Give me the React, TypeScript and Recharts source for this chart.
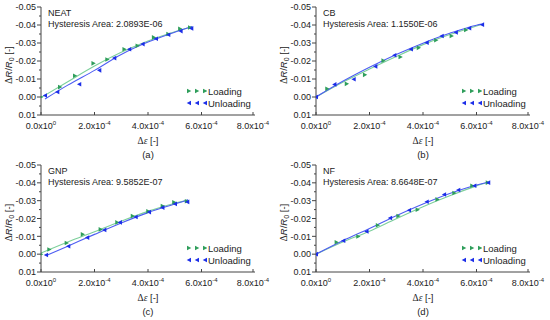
import React from 'react';
import { ComposedChart, Scatter, Line, XAxis, YAxis, Legend, Label } from 'recharts';

// [strain, dR/R0] pairs
const neatLoading = [[0, 0], [0.71e-4, -0.0055], [1.27e-4, -0.0118], [1.96e-4, -0.0187], [2.48e-4, -0.0208], [3.12e-4, -0.0265], [3.61e-4, -0.0285], [4.22e-4, -0.0331], [4.76e-4, -0.035], [5.2e-4, -0.0379], [5.57e-4, -0.0386]];
const neatUnloading = [[0.15e-4, -0.0008], [0.61e-4, -0.0028], [1.43e-4, -0.0071], [2.18e-4, -0.0148], [2.74e-4, -0.0216], [3.3e-4, -0.0265], [3.8e-4, -0.0294], [4.3e-4, -0.0324], [4.76e-4, -0.0346], [5.22e-4, -0.0366], [5.62e-4, -0.0381]];
const neatFitL = [[0, 0.0003], [1e-4, -0.0085], [2e-4, -0.0172], [3e-4, -0.0248], [4e-4, -0.0311], [5e-4, -0.0362], [5.65e-4, -0.039]];
const neatFitU = [[0.15e-4, 0.0011], [1e-4, -0.0066], [2e-4, -0.0148], [3e-4, -0.0236], [4e-4, -0.0305], [5e-4, -0.036], [5.65e-4, -0.0392]];

const cbLoading = [[0, 0], [0.42e-4, -0.0046], [1.15e-4, -0.0073], [1.83e-4, -0.0123], [2.52e-4, -0.0202], [3.16e-4, -0.0222], [3.84e-4, -0.0273], [4.49e-4, -0.0315], [5.07e-4, -0.0339], [5.61e-4, -0.0372]];
const cbUnloading = [[0, 0], [0.69e-4, -0.007], [1.41e-4, -0.0099], [2.22e-4, -0.017], [2.93e-4, -0.0232], [3.55e-4, -0.0265], [4.14e-4, -0.0302], [4.7e-4, -0.0339], [5.23e-4, -0.0358], [5.73e-4, -0.0382], [6.21e-4, -0.0402]];
const cbFitL = [[0, 0], [1e-4, -0.0082], [2e-4, -0.0155], [3e-4, -0.0225], [4e-4, -0.0291], [5e-4, -0.0347], [6e-4, -0.0394], [6.2e-4, -0.0403]];
const cbFitU = [[0, 0], [1e-4, -0.0087], [2e-4, -0.0165], [3e-4, -0.0236], [4e-4, -0.0299], [5e-4, -0.0354], [6e-4, -0.0399], [6.2e-4, -0.0405]];

const gnpLoading = [[0, 0], [0.31e-4, -0.0026], [0.96e-4, -0.0063], [1.56e-4, -0.0111], [2.23e-4, -0.0139], [2.85e-4, -0.0178], [3.43e-4, -0.0214], [4.01e-4, -0.024], [4.55e-4, -0.027], [4.98e-4, -0.0291], [5.45e-4, -0.0297]];
const gnpUnloading = [[0.19e-4, 0.0005], [1.02e-4, -0.0044], [1.73e-4, -0.0093], [2.37e-4, -0.0136], [2.95e-4, -0.0178], [3.54e-4, -0.0208], [4.04e-4, -0.0236], [4.54e-4, -0.0261], [5.01e-4, -0.0282], [5.47e-4, -0.0293]];
const gnpFitL = [[0, -0.0006], [1e-4, -0.0068], [2e-4, -0.0126], [3e-4, -0.0185], [4e-4, -0.024], [5e-4, -0.0285], [5.5e-4, -0.0303]];
const gnpFitU = [[0.19e-4, 0.0008], [1e-4, -0.0045], [2e-4, -0.0111], [3e-4, -0.0175], [4e-4, -0.0233], [5e-4, -0.0281], [5.5e-4, -0.0305]];

const nfLoading = [[0, 0], [0.77e-4, -0.0067], [1.58e-4, -0.0099], [2.31e-4, -0.0162], [3.08e-4, -0.0214], [3.8e-4, -0.0249], [4.54e-4, -0.0307], [5.17e-4, -0.0343], [5.84e-4, -0.0384], [6.42e-4, -0.0401]];
const nfUnloading = [[0, 0], [1.02e-4, -0.0075], [1.89e-4, -0.0127], [2.77e-4, -0.0203], [3.48e-4, -0.0246], [4.14e-4, -0.0294], [4.79e-4, -0.0335], [5.32e-4, -0.036], [5.92e-4, -0.0384], [6.44e-4, -0.0401]];
const nfFitL = [[0, 0], [1e-4, -0.0068], [2e-4, -0.0129], [3e-4, -0.0199], [4e-4, -0.0266], [5e-4, -0.0327], [6e-4, -0.0383], [6.45e-4, -0.0403]];
const nfFitU = [[0, 0], [1e-4, -0.0075], [2e-4, -0.0144], [3e-4, -0.0215], [4e-4, -0.0281], [5e-4, -0.034], [6e-4, -0.0388], [6.45e-4, -0.0405]];

const xTicks = [0, 2e-4, 4e-4, 6e-4, 8e-4];
const yTicks = [-0.05, -0.045, -0.04, -0.035, -0.03, -0.025, -0.02, -0.015, -0.01, -0.005, 0, 0.005, 0.01];

const GREEN = '#2f9e5b';
const GREEN_LINE = '#7ccf9b';
const BLUE = '#1c2ee8';
const BLUE_LINE = '#4d5df2';
const AXIS = '#444';
const FONT = '"Liberation Sans", Arial, sans-serif';

const toPts = (arr: number[][]) => arr.map(([x, y]) => ({ x, y }));

const RightTri = (props: any) => {
  const { cx, cy } = props;
  return <polygon points={`${cx - 2},${cy - 2.3} ${cx + 2.3},${cy} ${cx - 2},${cy + 2.3}`} fill={GREEN} />;
};
const LeftTri = (props: any) => {
  const { cx, cy } = props;
  return <polygon points={`${cx + 2},${cy - 2.3} ${cx - 2.3},${cy} ${cx + 2},${cy + 2.3}`} fill={BLUE} />;
};

const YTick = (props: any) => {
  const { x, y, payload } = props;
  const v = payload.value;
  const major = Math.abs(Math.round(v * 1000)) % 10 === 0;
  return (
    <g>
      <line x1={x - (major ? 4 : 2)} x2={x} y1={y} y2={y} stroke={AXIS} />
      {major && (
        <text x={x - 5} y={y} dy={3.2} textAnchor="end" fontSize={9} fill="#222" fontFamily={FONT}>
          {v.toFixed(2)}
        </text>
      )}
    </g>
  );
};

const XTick = (props: any) => {
  const { x, y, payload } = props;
  const v = payload.value;
  const mant = v === 0 ? '0.0' : (v / 1e-4).toFixed(1);
  const exp = v === 0 ? '0' : '-4';
  return (
    <g>
      <line x1={x} x2={x} y1={y} y2={y - 3} stroke={AXIS} />
      <text x={x} y={y + 14} textAnchor="middle" fontSize={9} fill="#222" fontFamily={FONT}>
        {mant}x10<tspan dy={-4} fontSize={6}>{exp}</tspan>
      </text>
    </g>
  );
};

const LegendBox = () => {
  const row = (shape: 'r' | 'l', text: string) => (
    <div style={{ display: 'flex', alignItems: 'center', height: 12 }}>
      <svg width={21} height={8} style={{ marginRight: 1 }}>
        {[3, 11, 19].map((cx) =>
          shape === 'r' ? <RightTri key={cx} cx={cx} cy={4} /> : <LeftTri key={cx} cx={cx} cy={4} />
        )}
      </svg>
      <span>{text}</span>
    </div>
  );
  return (
    <div style={{ fontSize: 9.5, fontFamily: FONT, color: '#222' }}>
      {row('r', 'Loading')}
      {row('l', 'Unloading')}
    </div>
  );
};

interface PanelProps {
  name: string;
  area: string;
  caption: string;
  loading: number[][];
  unloading: number[][];
  fitL: number[][];
  fitU: number[][];
  top: number;
  bottom: number;
}

const W = 275;
const H = 160;

const Panel: React.FC<PanelProps> = ({ name, area, caption, loading, unloading, fitL, fitU, top, bottom }) => {
  const plotBottom = H - bottom - 24;
  const midY = (top + plotBottom) / 2 + 4;
  return (
    <div style={{ position: 'relative', width: W, height: H }}>
      <ComposedChart width={W} height={H} margin={{ top, right: 20, left: 0, bottom }}>
        <XAxis
          type="number"
          dataKey="x"
          domain={[0, 8e-4]}
          ticks={xTicks}
          tick={<XTick />}
          tickLine={false}
          tickSize={0}
          tickMargin={0}
          height={24}
          stroke={AXIS}
          allowDataOverflow
        />
        <YAxis
          type="number"
          dataKey="y"
          domain={[-0.05, 0.01]}
          reversed
          ticks={yTicks}
          tick={<YTick />}
          tickLine={false}
          tickSize={0}
          tickMargin={0}
          width={41}
          stroke={AXIS}
          interval={0}
          allowDataOverflow
        >
          <Label
            content={() => (
              <text
                x={0}
                y={0}
                transform={`translate(12, ${midY}) rotate(-90)`}
                textAnchor="middle"
                fontSize={9.5}
                fill="#222"
                fontFamily={FONT}
              >
                <tspan fontFamily='"Liberation Serif", serif'>Δ</tspan>
                <tspan fontStyle="italic">R</tspan>/<tspan fontStyle="italic">R</tspan>
                <tspan fontSize={7} dy={2}>0</tspan>
                <tspan dy={-2}> [-]</tspan>
              </text>
            )}
          />
        </YAxis>
        <Legend
          verticalAlign="middle"
          align="center"
          layout="horizontal"
          content={<LegendBox />}
          wrapperStyle={{ left: 186, top: plotBottom - 30, width: 80, height: 26 }}
        />
        <Line data={toPts(fitL)} dataKey="y" type="monotone" stroke={GREEN_LINE} strokeWidth={1.1} dot={false} isAnimationActive={false} legendType="none" />
        <Line data={toPts(fitU)} dataKey="y" type="monotone" stroke={BLUE_LINE} strokeWidth={1.1} dot={false} isAnimationActive={false} legendType="none" />
        <Scatter data={toPts(loading)} dataKey="y" name="Loading" shape={RightTri} isAnimationActive={false} />
        <Scatter data={toPts(unloading)} dataKey="y" name="Unloading" shape={LeftTri} isAnimationActive={false} />
      </ComposedChart>
      <div
        style={{
          position: 'absolute',
          left: 48,
          top: top + 1,
          fontSize: 9,
          lineHeight: '10.5px',
          fontFamily: FONT,
          color: '#222',
          whiteSpace: 'nowrap',
        }}
      >
        <div>{name}</div>
        <div>Hysteresis Area: {area}</div>
      </div>
      <div
        style={{
          position: 'absolute',
          left: 41,
          width: 214,
          top: plotBottom + 20,
          textAlign: 'center',
          fontSize: 9.5,
          lineHeight: '12px',
          color: '#222',
          fontFamily: FONT,
        }}
      >
        <span style={{ fontFamily: '"Liberation Serif", serif' }}>
          Δ<i>ε</i>
        </span>{' '}
        [-]
      </div>
      <div
        style={{
          position: 'absolute',
          left: 41,
          width: 214,
          top: plotBottom + 34,
          textAlign: 'center',
          fontSize: 9.5,
          lineHeight: '12px',
          color: '#222',
          fontFamily: FONT,
        }}
      >
        {caption}
      </div>
    </div>
  );
};

export default function App() {
  return (
    <div style={{ position: 'absolute', left: 0, top: 0, width: 550, height: 320, background: '#fff' }}>
      <div style={{ display: 'flex' }}>
        <Panel name="NEAT" area="2.0893E-06" caption="(a)" loading={neatLoading} unloading={neatUnloading} fitL={neatFitL} fitU={neatFitU} top={7} bottom={21} />
        <Panel name="CB" area="1.1550E-06" caption="(b)" loading={cbLoading} unloading={cbUnloading} fitL={cbFitL} fitU={cbFitU} top={7} bottom={21} />
      </div>
      <div style={{ display: 'flex' }}>
        <Panel name="GNP" area="9.5852E-07" caption="(c)" loading={gnpLoading} unloading={gnpUnloading} fitL={gnpFitL} fitU={gnpFitU} top={5} bottom={24} />
        <Panel name="NF" area="8.6648E-07" caption="(d)" loading={nfLoading} unloading={nfUnloading} fitL={nfFitL} fitU={nfFitU} top={5} bottom={24} />
      </div>
    </div>
  );
}
